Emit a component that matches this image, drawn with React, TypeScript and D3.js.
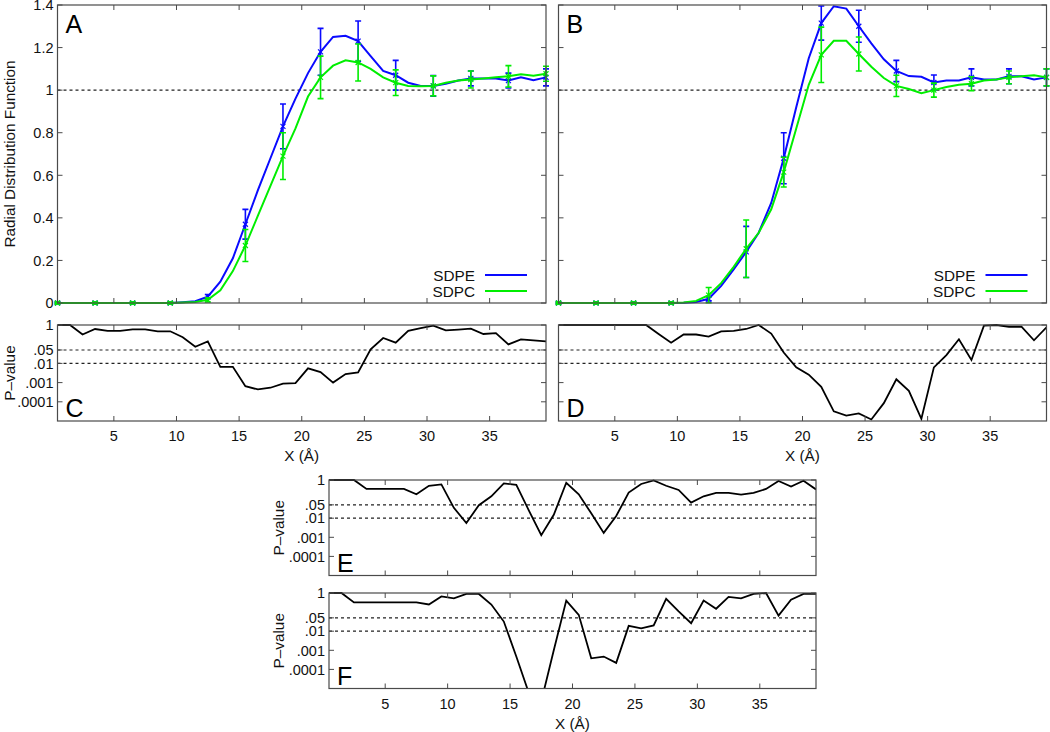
import React from 'react';
import * as d3 from 'd3';

// ---------- data ----------
const xValues = [0.5, 1.5, 2.5, 3.5, 4.5, 5.5, 6.5, 7.5, 8.5, 9.5, 10.5, 11.5, 12.5, 13.5, 14.5, 15.5, 16.5, 17.5, 18.5, 19.5, 20.5, 21.5, 22.5, 23.5, 24.5, 25.5, 26.5, 27.5, 28.5, 29.5, 30.5, 31.5, 32.5, 33.5, 34.5, 35.5, 36.5, 37.5, 38.5, 39.5];
const errorX = [0.5, 3.5, 6.5, 9.5, 12.5, 15.5, 18.5, 21.5, 24.5, 27.5, 30.5, 33.5, 36.5, 39.5];

const rdfA_SDPE = [0, 0, 0, 0, 0, 0, 0, 0, 0, 0, 0.004, 0.008, 0.03, 0.10, 0.21, 0.37, 0.53, 0.68, 0.83, 0.96, 1.08, 1.18, 1.25, 1.255, 1.23, 1.16, 1.09, 1.07, 1.035, 1.02, 1.02, 1.03, 1.045, 1.055, 1.055, 1.055, 1.045, 1.06, 1.047, 1.06];
const rdfA_SDPC = [0, 0, 0, 0, 0, 0, 0, 0, 0, 0, 0.002, 0.005, 0.015, 0.06, 0.15, 0.27, 0.41, 0.55, 0.69, 0.82, 0.97, 1.06, 1.115, 1.14, 1.13, 1.10, 1.06, 1.035, 1.02, 1.018, 1.02, 1.035, 1.045, 1.05, 1.055, 1.06, 1.065, 1.075, 1.068, 1.077];
const errA_SDPE = [0.004, 0.004, 0.004, 0.005, 0.01, 0.07, 0.105, 0.11, 0.095, 0.07, 0.048, 0.035, 0.035, 0.04];
const errA_SDPC = [0.004, 0.004, 0.004, 0.004, 0.01, 0.075, 0.11, 0.10, 0.087, 0.06, 0.047, 0.04, 0.05, 0.035];

const rdfB_SDPE = [0, 0, 0, 0, 0, 0, 0, 0, 0, 0, 0.001, 0.005, 0.02, 0.08, 0.158, 0.24, 0.33, 0.47, 0.68, 0.92, 1.15, 1.315, 1.394, 1.383, 1.30, 1.22, 1.145, 1.09, 1.066, 1.063, 1.036, 1.045, 1.045, 1.06, 1.05, 1.05, 1.065, 1.065, 1.05, 1.06];
const rdfB_SDPC = [0, 0, 0, 0, 0, 0, 0, 0, 0, 0, 0.002, 0.01, 0.037, 0.093, 0.17, 0.255, 0.33, 0.44, 0.615, 0.82, 1.025, 1.166, 1.232, 1.232, 1.17, 1.11, 1.057, 1.02, 1.005, 0.986, 1.0, 1.015, 1.025, 1.03, 1.045, 1.05, 1.06, 1.065, 1.07, 1.06];
const errB_SDPE = [0.004, 0.004, 0.004, 0.004, 0.01, 0.12, 0.12, 0.08, 0.075, 0.05, 0.035, 0.04, 0.035, 0.04];
const errB_SDPC = [0.004, 0.004, 0.004, 0.004, 0.036, 0.135, 0.07, 0.13, 0.08, 0.05, 0.033, 0.033, 0.03, 0.04];

const pC = [1, 1, 0.32, 0.62, 0.49, 0.5, 0.59, 0.59, 0.47, 0.47, 0.23, 0.074, 0.14, 0.0066, 0.0066, 0.00065, 0.00044, 0.00054, 0.00089, 0.00093, 0.0055, 0.0035, 0.001, 0.0028, 0.0034, 0.054, 0.21, 0.12, 0.5, 0.68, 0.93, 0.52, 0.58, 0.65, 0.34, 0.38, 0.098, 0.18, 0.16, 0.14];
const pD = [1, 1, 1, 1, 1, 1, 1, 1, 0.34, 0.12, 0.32, 0.32, 0.25, 0.47, 0.5, 0.62, 1, 0.36, 0.037, 0.0062, 0.0026, 0.0006, 0.000032, 0.000019, 0.000025, 0.000012, 0.000085, 0.0015, 0.00037, 0.000013, 0.0062, 0.027, 0.18, 0.015, 0.93, 1, 0.81, 0.81, 0.16, 0.76];
const pE = [1, 1, 1, 0.34, 0.34, 0.34, 0.34, 0.18, 0.5, 0.59, 0.035, 0.0056, 0.048, 0.14, 0.66, 0.55, 0.026, 0.0013, 0.015, 0.72, 0.18, 0.018, 0.0017, 0.013, 0.22, 0.62, 0.95, 0.5, 0.3, 0.065, 0.14, 0.21, 0.21, 0.17, 0.21, 0.34, 0.89, 0.45, 0.91, 0.32];
const pF = [1, 1, 0.32, 0.32, 0.32, 0.32, 0.32, 0.32, 0.25, 0.66, 0.52, 0.89, 0.89, 0.25, 0.032, 0.00047, 0.0000059, 0.0000021, 0.001, 0.4, 0.072, 0.00038, 0.00047, 0.00022, 0.019, 0.014, 0.02, 0.5, 0.11, 0.026, 0.4, 0.15, 0.62, 0.52, 0.89, 1, 0.065, 0.45, 0.89, 0.89];

const xTickValues = [5, 10, 15, 20, 25, 30, 35];
const rdfTickValues = [0, 0.2, 0.4, 0.6, 0.8, 1, 1.2, 1.4];
const rdfTickLabels = ['0', '0.2', '0.4', '0.6', '0.8', '1', '1.2', '1.4'];
const pTickValues = [1, 0.05, 0.01, 0.001, 0.0001];
const pTickLabels = ['1', '.05', '.01', '.001', '.0001'];
const pThresholds = [0.05, 0.01];
const seriesNames = ['SDPE', 'SDPC'];

// ---------- style ----------
const FONT = '"Liberation Sans", Arial, Helvetica, sans-serif';
const FRAME = '#4a4a4a';
const BLUE = '#0a0aff';
const GREEN = '#00ee00';
const TICK_FS = 14.5;
const TITLE_FS = 15.3;
const LETTER_FS = 25;

type Box = { x0: number; x1: number; y0: number; y1: number };

function Axes({ box, x, y, yVals, yLabels, showY, showX, tick = 5 }: any) {
  return (
    <g>
      {xTickValues.map((v) => (
        <g key={'x' + v}>
          <line x1={x(v)} x2={x(v)} y1={box.y1} y2={box.y1 - tick} stroke={FRAME} strokeWidth={1} />
          <line x1={x(v)} x2={x(v)} y1={box.y0} y2={box.y0 + tick} stroke={FRAME} strokeWidth={1} />
          {showX && (
            <text x={x(v)} y={box.y1 + 20} textAnchor="middle" fontSize={TICK_FS} fontFamily={FONT} fill="#111">{v}</text>
          )}
        </g>
      ))}
      {yVals.map((v: number, i: number) => (
        <g key={'y' + i}>
          <line x1={box.x0} x2={box.x0 + tick} y1={y(v)} y2={y(v)} stroke={FRAME} strokeWidth={1} />
          <line x1={box.x1} x2={box.x1 - tick} y1={y(v)} y2={y(v)} stroke={FRAME} strokeWidth={1} />
          {showY && (
            <text x={box.x0 - 4} y={y(v)} dy="0.36em" textAnchor="end" fontSize={TICK_FS} fontFamily={FONT} fill="#111">{yLabels[i]}</text>
          )}
        </g>
      ))}
      <rect x={box.x0} y={box.y0} width={box.x1 - box.x0} height={box.y1 - box.y0} fill="none" stroke={FRAME} strokeWidth={1.2} />
    </g>
  );
}

function ErrorBars({ x, y, values, errs, color }: any) {
  return (
    <g stroke={color} strokeWidth={1.6} fill="none">
      {errorX.map((ex, i) => {
        const v = values[xValues.indexOf(ex)];
        const px = x(ex);
        const yt = y(v + errs[i]);
        const yb = y(v - errs[i]);
        const yc = y(v);
        const c = 3;
        const m = 2.5;
        return (
          <g key={i}>
            <line x1={px} x2={px} y1={yt} y2={yb} />
            <line x1={px - c} x2={px + c} y1={yt} y2={yt} />
            <line x1={px - c} x2={px + c} y1={yb} y2={yb} />
            <line x1={px - m} x2={px + m} y1={yc - m} y2={yc + m} strokeWidth={1.2} />
            <line x1={px - m} x2={px + m} y1={yc + m} y2={yc - m} strokeWidth={1.2} />
          </g>
        );
      })}
    </g>
  );
}

function RdfPanel({ id, box, sdpe, sdpc, errE, errC, letter, showY }: any) {
  const x = d3.scaleLinear().domain([0.5, 39.5]).range([box.x0, box.x1]);
  const y = d3.scaleLinear().domain([0, 1.4]).range([box.y1, box.y0]);
  const line = d3.line<number>().x((_, i) => x(xValues[i])).y((d) => y(d));
  const legendY = [box.y1 - 28, box.y1 - 12];
  return (
    <g>
      <defs>
        <clipPath id={id}>
          <rect x={box.x0 - 4} y={box.y0 - 1} width={box.x1 - box.x0 + 8} height={box.y1 - box.y0 + 4} />
        </clipPath>
      </defs>
      <line x1={box.x0} x2={box.x1} y1={y(1)} y2={y(1)} stroke="#222" strokeWidth={1.2} strokeDasharray="3,3" />
      <g clipPath={`url(#${id})`}>
        <path d={line(sdpe) || ''} fill="none" stroke={BLUE} strokeWidth={2} />
        <ErrorBars x={x} y={y} values={sdpe} errs={errE} color={BLUE} />
        <path d={line(sdpc) || ''} fill="none" stroke={GREEN} strokeWidth={2} />
        <ErrorBars x={x} y={y} values={sdpc} errs={errC} color={GREEN} />
      </g>
      <Axes box={box} x={x} y={y} yVals={rdfTickValues} yLabels={rdfTickLabels} showY={showY} showX={false} />
      {seriesNames.map((n, i) => (
        <g key={n}>
          <text x={box.x1 - 71} y={legendY[i]} dy="0.36em" textAnchor="end" fontSize={TITLE_FS} fontFamily={FONT} fill="#111">{n}</text>
          <line x1={box.x1 - 61} x2={box.x1 - 19} y1={legendY[i]} y2={legendY[i]} stroke={i === 0 ? BLUE : GREEN} strokeWidth={2} />
        </g>
      ))}
      <text x={box.x0 + 8} y={box.y0 + 28} fontSize={LETTER_FS} fontFamily={FONT} fill="#000">{letter}</text>
    </g>
  );
}

function PPanel({ id, box, pvals, letter, showY, showX, showYTitle, yTitleX }: any) {
  const x = d3.scaleLinear().domain([0.5, 39.5]).range([box.x0, box.x1]);
  const y = d3.scaleLog().domain([1e-5, 1]).range([box.y1, box.y0]);
  const line = d3.line<number>().x((_, i) => x(xValues[i])).y((d) => y(d));
  const midX = (box.x0 + box.x1) / 2;
  const midY = (box.y0 + box.y1) / 2;
  return (
    <g>
      <defs>
        <clipPath id={id}>
          <rect x={box.x0} y={box.y0 - 1} width={box.x1 - box.x0} height={box.y1 - box.y0 + 1} />
        </clipPath>
      </defs>
      {pThresholds.map((t) => (
        <line key={t} x1={box.x0} x2={box.x1} y1={y(t)} y2={y(t)} stroke="#222" strokeWidth={1.2} strokeDasharray="3,3" />
      ))}
      <g clipPath={`url(#${id})`}>
        <path d={line(pvals) || ''} fill="none" stroke="#000" strokeWidth={1.8} strokeLinejoin="miter" />
      </g>
      <Axes box={box} x={x} y={y} yVals={pTickValues} yLabels={pTickLabels} showY={showY} showX={showX} />
      {showX && (
        <text x={midX} y={box.y1 + 40} textAnchor="middle" fontSize={TITLE_FS} fontFamily={FONT} fill="#111">X (Å)</text>
      )}
      {showYTitle && (
        <text transform={`translate(${yTitleX},${midY}) rotate(-90)`} dy="0.36em" textAnchor="middle" fontSize={TITLE_FS} fontFamily={FONT} fill="#111">P–value</text>
      )}
      <text x={box.x0 + 8} y={box.y1 - 4} fontSize={LETTER_FS} fontFamily={FONT} fill="#000">{letter}</text>
    </g>
  );
}

export default function App() {
  const boxA: Box = { x0: 57.5, x1: 546, y0: 5, y1: 303 };
  const boxB: Box = { x0: 558.5, x1: 1046.5, y0: 5, y1: 303 };
  const boxC: Box = { x0: 57.5, x1: 546, y0: 325, y1: 421 };
  const boxD: Box = { x0: 558.5, x1: 1046.5, y0: 325, y1: 421 };
  const boxE: Box = { x0: 329, x1: 816, y0: 480, y1: 575.5 };
  const boxF: Box = { x0: 329, x1: 816, y0: 593, y1: 688.5 };
  return (
    <svg width={1050} height={732} style={{ position: 'absolute', left: 0, top: 0, background: '#fff' }}>
      <rect x={0} y={0} width={1050} height={732} fill="#fff" />
      <RdfPanel id="clipA" box={boxA} sdpe={rdfA_SDPE} sdpc={rdfA_SDPC} errE={errA_SDPE} errC={errA_SDPC} letter="A" showY={true} />
      <RdfPanel id="clipB" box={boxB} sdpe={rdfB_SDPE} sdpc={rdfB_SDPC} errE={errB_SDPE} errC={errB_SDPC} letter="B" showY={false} />
      <text transform={`translate(9,${(boxA.y0 + boxA.y1) / 2}) rotate(-90)`} dy="0.36em" textAnchor="middle" fontSize={TITLE_FS} fontFamily={FONT} fill="#111">Radial Distribution Function</text>
      <PPanel id="clipC" box={boxC} pvals={pC} letter="C" showY={true} showX={true} showYTitle={true} yTitleX={9} />
      <PPanel id="clipD" box={boxD} pvals={pD} letter="D" showY={false} showX={true} showYTitle={false} />
      <PPanel id="clipE" box={boxE} pvals={pE} letter="E" showY={true} showX={false} showYTitle={true} yTitleX={278} />
      <PPanel id="clipF" box={boxF} pvals={pF} letter="F" showY={true} showX={true} showYTitle={true} yTitleX={278} />
    </svg>
  );
}
